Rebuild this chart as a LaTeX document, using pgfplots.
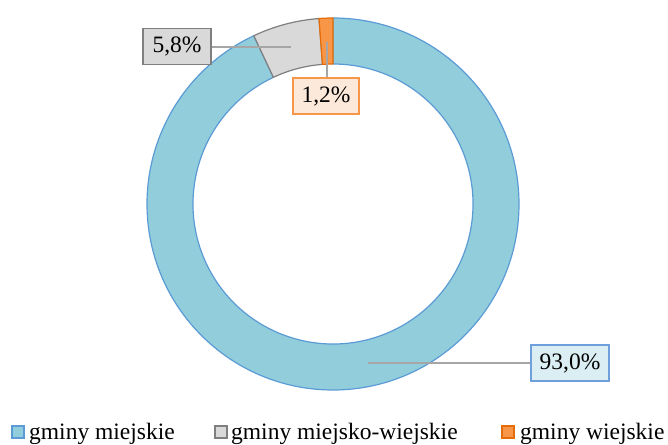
\documentclass[border=0pt]{standalone}
\usepackage{fontspec}
\setmainfont{Liberation Serif}
\usepackage{pgfplots}
\usepackage{pgfplotstable}
\pgfplotsset{compat=1.18}
\definecolor{blueFill}{HTML}{92CDDC}
\definecolor{blueEdge}{HTML}{5B9BD5}
\definecolor{grayFill}{HTML}{D9D9D9}
\definecolor{grayEdge}{HTML}{7F7F7F}
\definecolor{orangeFill}{HTML}{F79646}
\definecolor{orangeEdge}{HTML}{E46C0A}
\definecolor{blueLab}{HTML}{DAEEF3}
\definecolor{blueLabEdge}{HTML}{6FA0DC}
\definecolor{orangeLab}{HTML}{FDE9D9}
\definecolor{orangeLabEdge}{HTML}{F79646}
\definecolor{leader}{HTML}{A6A6A6}

% udzial gmin (%)
\pgfplotstableread{
cat value
1 93.0
2 5.8
3 1.2
}\shares

% ring segment: start angle, end angle, fill, edge
\newcommand\ringseg[4]{%
  \filldraw[fill=#3, draw=#4, line width=1.2pt, line join=round]
    ([shift={(#1:186pt)}]axis cs:333,240) arc[start angle=#1, end angle=#2, radius=186pt]
    -- ([shift={(#2:140pt)}]axis cs:333,240) arc[start angle=#2, end angle=#1, radius=140pt]
    -- cycle;}

\newcommand\labfont{\fontsize{23.5}{28}\selectfont}

\begin{document}
\begin{tikzpicture}
\pgfplotstablegetelem{0}{value}\of\shares \let\va\pgfplotsretval
\pgfplotstablegetelem{1}{value}\of\shares \let\vb\pgfplotsretval
\pgfplotstablegetelem{2}{value}\of\shares \let\vc\pgfplotsretval
\pgfmathsetmacro\aA{90-3.6*\va}
\pgfmathsetmacro\aB{\aA-3.6*\vb}
\pgfmathsetmacro\aC{\aB-3.6*\vc}
\begin{axis}[name=ax, width=668pt, height=444pt, scale only axis,
  xmin=0, xmax=668, ymin=0, ymax=444, hide axis, clip=false]
\ringseg{90}{\aA}{blueFill}{blueEdge}
\ringseg{\aA}{\aB}{grayFill}{grayEdge}
\ringseg{\aB}{\aC}{orangeFill}{orangeEdge}
% leader lines
\draw[leader, line width=1.5pt] (axis cs:211,397) -- (axis cs:291,397);
\draw[leader, line width=1.5pt] (axis cs:327,402) -- (axis cs:327,366);
\draw[leader, line width=1.5pt] (axis cs:368,81) -- (axis cs:531,81);
% data labels
\node[draw=grayEdge, fill=grayFill, line width=1.5pt, minimum width=68pt,
  minimum height=36pt, inner sep=0pt, font=\labfont] at (axis cs:177,397.5) {5,8\%};
\node[draw=orangeLabEdge, fill=orangeLab, line width=1.5pt, minimum width=66pt,
  minimum height=36pt, inner sep=0pt, font=\labfont] at (axis cs:326,348) {1,2\%};
\node[draw=blueLabEdge, fill=blueLab, line width=1.5pt, minimum width=78pt,
  minimum height=36pt, inner sep=0pt, font=\labfont] at (axis cs:570,81) {93,0\%};
% legend
\filldraw[fill=blueFill, draw=blueEdge, line width=1.2pt] (axis cs:12,6) rectangle (axis cs:24,18);
\filldraw[fill=grayFill, draw=grayEdge, line width=1.2pt] (axis cs:215,6) rectangle (axis cs:227,18);
\filldraw[fill=orangeFill, draw=orangeEdge, line width=1.2pt] (axis cs:502,6) rectangle (axis cs:514,18);
\node[anchor=base west, inner sep=0pt, font=\labfont] at (axis cs:29,5) {gminy miejskie};
\node[anchor=base west, inner sep=0pt, font=\labfont] at (axis cs:231,5) {gminy miejsko-wiejskie};
\node[anchor=base west, inner sep=0pt, font=\labfont] at (axis cs:520,5) {gminy wiejskie};
\end{axis}
\pgfresetboundingbox
\path[use as bounding box] (ax.south west) rectangle (ax.north east);
\end{tikzpicture}
\end{document}
